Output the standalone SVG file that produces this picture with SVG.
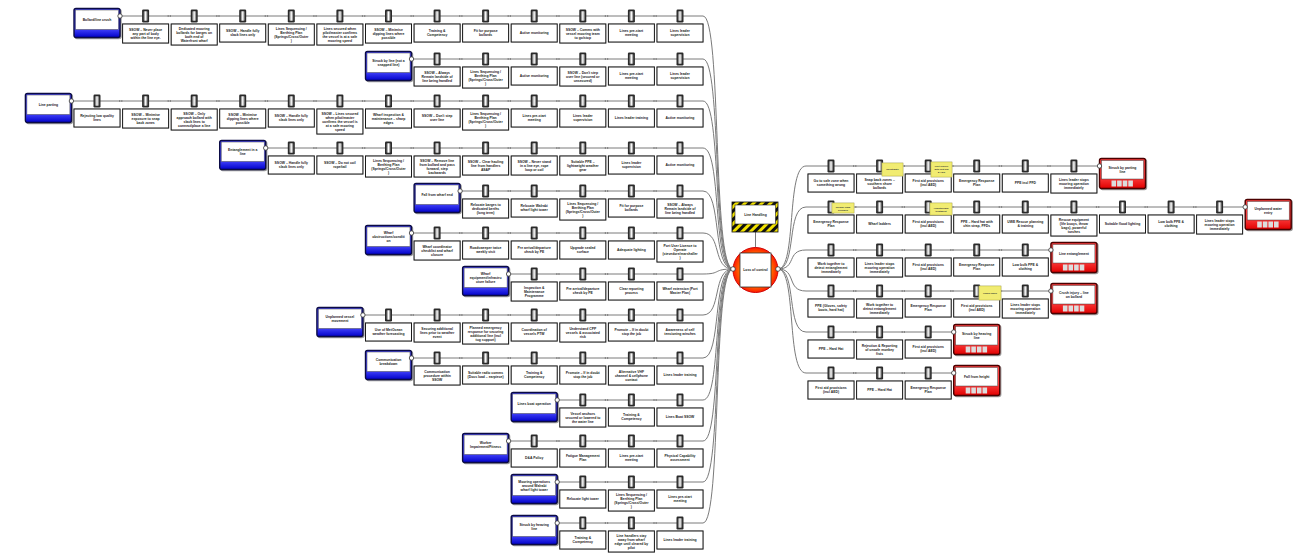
<svg xmlns="http://www.w3.org/2000/svg" xmlns:xlink="http://www.w3.org/1999/xlink" width="1310" height="554" viewBox="0 0 1310 554">
<style>
.t{font-family:"Liberation Sans",Arial,sans-serif;font-weight:bold;font-size:3.4px;fill:#222;text-anchor:middle;dominant-baseline:central}
.tn{font-family:"Liberation Sans",Arial,sans-serif;font-weight:bold;font-size:2.4px;fill:#333;text-anchor:middle;dominant-baseline:central}
.bx{fill:#fff;stroke:#1a1a1a;stroke-width:1;filter:drop-shadow(0.8px 0.8px 0 #9a9a9a)}
.ln{fill:none;stroke:#7a7a7a;stroke-width:1}
.dt{stroke:#777;stroke-width:1.3;stroke-dasharray:1.2 1}
.thO{fill:url(#thG);stroke:#0b0b45;stroke-width:1.4;filter:drop-shadow(1px 1px 0 #999)}
.thI{fill:#fff;stroke:#444;stroke-width:0.5}
.coO{fill:url(#coG);stroke:#4a0000;stroke-width:1.4;filter:drop-shadow(1px 1px 0 #999)}
.coI{fill:#fff;stroke:#444;stroke-width:0.5}
.cn{fill:#fff;stroke:#333;stroke-width:0.8}
.nt{fill:#f1ec72;stroke:#bdb640;stroke-width:0.5;filter:drop-shadow(0.7px 0.7px 0 #aaa)}
</style>
<defs>
<linearGradient id="hgG" x1="0" y1="0" x2="1" y2="0"><stop offset="0" stop-color="#555"/><stop offset="0.5" stop-color="#fff"/><stop offset="1" stop-color="#555"/></linearGradient>
<linearGradient id="thG" x1="0" y1="0" x2="0" y2="1"><stop offset="0.68" stop-color="#4848ff"/><stop offset="1" stop-color="#0000c8"/></linearGradient>
<linearGradient id="coG" x1="0" y1="0" x2="0" y2="1"><stop offset="0.6" stop-color="#ff4040"/><stop offset="1" stop-color="#e00000"/></linearGradient>
<radialGradient id="teG"><stop offset="0" stop-color="#ffd400"/><stop offset="0.55" stop-color="#ff9a00"/><stop offset="1" stop-color="#ff1a00"/></radialGradient>
<pattern id="haz" width="6" height="6" patternUnits="userSpaceOnUse" patternTransform="rotate(45)"><rect width="6" height="6" fill="#f2e200"/><rect width="3" height="6" fill="#111"/></pattern>
<g id="hg"><rect x="-3.5" y="-6.5" width="7" height="13" rx="1.2" fill="#2a2a2a"/><rect x="-2.2" y="-4.8" width="4.4" height="9.6" rx="0.8" fill="url(#hgG)"/></g>
<g id="sq4" fill="#ddd"><rect x="12" y="14.5" width="4.6" height="6"/><rect x="17.6" y="14.5" width="4.6" height="6"/><rect x="23.2" y="14.5" width="4.6" height="6"/><rect x="28.8" y="14.5" width="4.6" height="6"/></g>
</defs>
<rect width="1310" height="554" fill="#fff"/>

<g id="connectors">
<path class="ln" d="M120 16H703C722 16 712 269 733 269"/>
<path class="ln" d="M411.5 59H703C722 59 712 269 733 269"/>
<path class="ln" d="M71.4 101H703C722 101 712 269 733 269"/>
<path class="ln" d="M265.7 148H703C722 148 712 269 733 269"/>
<path class="ln" d="M460.1 191H703C722 191 712 269 733 269"/>
<path class="ln" d="M411.5 233H703C722 233 712 269 733 269"/>
<path class="ln" d="M508.6 274H703C722 274 712 269 733 269"/>
<path class="ln" d="M362.9 315H703C722 315 712 269 733 269"/>
<path class="ln" d="M411.5 358H703C722 358 712 269 733 269"/>
<path class="ln" d="M557.2 400H703C722 400 712 269 733 269"/>
<path class="ln" d="M508.6 441H703C722 441 712 269 733 269"/>
<path class="ln" d="M557.2 482H703C722 482 712 269 733 269"/>
<path class="ln" d="M557.2 523H703C722 523 712 269 733 269"/>
<path class="ln" d="M778 269C797 269 786 166 806 166H1099.5"/>
<path class="ln" d="M778 269C797 269 786 207 806 207H1245.2"/>
<path class="ln" d="M778 269C797 269 786 250 806 250H1050.9"/>
<path class="ln" d="M778 269C797 269 786 291 806 291H1050.9"/>
<path class="ln" d="M778 269C797 269 786 332 806 332H953.7"/>
<path class="ln" d="M778 269C797 269 786 373 806 373H953.7"/>
<path class="ln" d="M755.5 232V247.5"/>
</g>

<!-- Hazard -->
<g id="hazard">
<rect x="732" y="202" width="46" height="30" fill="url(#haz)" stroke="#111" stroke-width="0.8"/>
<rect x="735" y="205" width="40.5" height="19" fill="#fff" stroke="#222" stroke-width="0.6"/>
<text class="t" x="755.5" y="214.5">Line Handling</text>
</g>

<!-- Top event -->
<g id="top-event">
<circle cx="755.5" cy="270" r="22.5" fill="url(#teG)" stroke="#d00000" stroke-width="1"/>
<rect x="740" y="253" width="31" height="34" fill="#fff" stroke="#333" stroke-width="0.8"/>
<text class="t" x="755.5" y="270">Loss of control</text>
<circle class="cn" cx="733" cy="269" r="2.3"/>
<circle class="cn" cx="778" cy="269" r="2.3"/>
</g>

<!-- Threats -->
<g id="threat-1" transform="translate(74,16)"><rect class="thO" y="-7.5" width="46" height="29" rx="2"/><rect class="thI" x="1.5" y="-6" width="43" height="19.5"/><text class="t" x="23" y="3.75">Bollard/line crush</text><circle class="cn" cx="46" cy="0" r="2.2"/></g>
<g id="threat-2" transform="translate(365.5,59)"><rect class="thO" y="-7.5" width="46" height="29" rx="2"/><rect class="thI" x="1.5" y="-6" width="43" height="19.5"/><text class="t" y="1.75"><tspan x="23">Struck by line (not a</tspan><tspan x="23" dy="4">snapped line)</tspan></text><circle class="cn" cx="46" cy="0" r="2.2"/></g>
<g id="threat-3" transform="translate(25.4,101)"><rect class="thO" y="-7.5" width="46" height="29" rx="2"/><rect class="thI" x="1.5" y="-6" width="43" height="19.5"/><text class="t" x="23" y="3.75">Line parting</text><circle class="cn" cx="46" cy="0" r="2.2"/></g>
<g id="threat-4" transform="translate(219.7,148)"><rect class="thO" y="-7.5" width="46" height="29" rx="2"/><rect class="thI" x="1.5" y="-6" width="43" height="19.5"/><text class="t" y="1.75"><tspan x="23">Entanglement in a</tspan><tspan x="23" dy="4">line</tspan></text><circle class="cn" cx="46" cy="0" r="2.2"/></g>
<g id="threat-5" transform="translate(414.1,191)"><rect class="thO" y="-7.5" width="46" height="29" rx="2"/><rect class="thI" x="1.5" y="-6" width="43" height="19.5"/><text class="t" x="23" y="3.75">Fall from wharf end</text><circle class="cn" cx="46" cy="0" r="2.2"/></g>
<g id="threat-6" transform="translate(365.5,233)"><rect class="thO" y="-7.5" width="46" height="29" rx="2"/><rect class="thI" x="1.5" y="-6" width="43" height="19.5"/><text class="t" y="-0.25"><tspan x="23">Wharf</tspan><tspan x="23" dy="4">obstructions/conditi</tspan><tspan x="23" dy="4">on</tspan></text><circle class="cn" cx="46" cy="0" r="2.2"/></g>
<g id="threat-7" transform="translate(462.6,274)"><rect class="thO" y="-7.5" width="46" height="29" rx="2"/><rect class="thI" x="1.5" y="-6" width="43" height="19.5"/><text class="t" y="-0.25"><tspan x="23">Wharf</tspan><tspan x="23" dy="4">equipment/infrastru</tspan><tspan x="23" dy="4">cture failure</tspan></text><circle class="cn" cx="46" cy="0" r="2.2"/></g>
<g id="threat-8" transform="translate(316.9,315)"><rect class="thO" y="-7.5" width="46" height="29" rx="2"/><rect class="thI" x="1.5" y="-6" width="43" height="19.5"/><text class="t" y="1.75"><tspan x="23">Unplanned vessel</tspan><tspan x="23" dy="4">movement</tspan></text><circle class="cn" cx="46" cy="0" r="2.2"/></g>
<g id="threat-9" transform="translate(365.5,358)"><rect class="thO" y="-7.5" width="46" height="29" rx="2"/><rect class="thI" x="1.5" y="-6" width="43" height="19.5"/><text class="t" y="1.75"><tspan x="23">Communication</tspan><tspan x="23" dy="4">breakdown</tspan></text><circle class="cn" cx="46" cy="0" r="2.2"/></g>
<g id="threat-10" transform="translate(511.2,400)"><rect class="thO" y="-7.5" width="46" height="29" rx="2"/><rect class="thI" x="1.5" y="-6" width="43" height="19.5"/><text class="t" x="23" y="3.75">Lines boat operation</text><circle class="cn" cx="46" cy="0" r="2.2"/></g>
<g id="threat-11" transform="translate(462.6,441)"><rect class="thO" y="-7.5" width="46" height="29" rx="2"/><rect class="thI" x="1.5" y="-6" width="43" height="19.5"/><text class="t" y="1.75"><tspan x="23">Worker</tspan><tspan x="23" dy="4">Impairment/Fitness</tspan></text><circle class="cn" cx="46" cy="0" r="2.2"/></g>
<g id="threat-12" transform="translate(511.2,482)"><rect class="thO" y="-7.5" width="46" height="29" rx="2"/><rect class="thI" x="1.5" y="-6" width="43" height="19.5"/><text class="t" y="-0.25"><tspan x="23">Mooring operations</tspan><tspan x="23" dy="4">around Walrabi</tspan><tspan x="23" dy="4">wharf light tower</tspan></text><circle class="cn" cx="46" cy="0" r="2.2"/></g>
<g id="threat-13" transform="translate(511.2,523)"><rect class="thO" y="-7.5" width="46" height="29" rx="2"/><rect class="thI" x="1.5" y="-6" width="43" height="19.5"/><text class="t" y="1.75"><tspan x="23">Struck by heaving</tspan><tspan x="23" dy="4">line</tspan></text><circle class="cn" cx="46" cy="0" r="2.2"/></g>

<!-- Row 1 barriers -->
<g id="b1-1" transform="translate(122.6,16)"><use href="#hg" x="23"/><rect class="bx" y="8" width="46" height="19"/><text class="t" y="13.5"><tspan x="23">SSOW – Never place</tspan><tspan x="23" dy="4">any part of body</tspan><tspan x="23" dy="4">within the line eye.</tspan></text><path class="dt" d="M45 0h4"/></g>
<g id="b1-2" transform="translate(171.2,16)"><use href="#hg" x="23"/><rect class="bx" y="8" width="46" height="21"/><text class="t" y="12.5"><tspan x="23">Dedicated mooring</tspan><tspan x="23" dy="4">bollards for barges on</tspan><tspan x="23" dy="4">both end of</tspan><tspan x="23" dy="4">Waterfront wharf</tspan></text><path class="dt" d="M45 0h4"/></g>
<g id="b1-3" transform="translate(219.7,16)"><use href="#hg" x="23"/><rect class="bx" y="8" width="46" height="18"/><text class="t" y="15"><tspan x="23">SSOW – Handle fully</tspan><tspan x="23" dy="4">slack lines only</tspan></text><path class="dt" d="M45 0h4"/></g>
<g id="b1-4" transform="translate(268.3,16)"><use href="#hg" x="23"/><rect class="bx" y="8" width="46" height="21"/><text class="t" y="12.5"><tspan x="23">Lines Sequencing /</tspan><tspan x="23" dy="4">Berthing Plan</tspan><tspan x="23" dy="4">(Springs/Cross/Outer</tspan><tspan x="23" dy="4">)</tspan></text><path class="dt" d="M45 0h4"/></g>
<g id="b1-5" transform="translate(316.9,16)"><use href="#hg" x="23"/><rect class="bx" y="8" width="46" height="21"/><text class="t" y="12.5"><tspan x="23">Lines secured when</tspan><tspan x="23" dy="4">pilot/master confirms</tspan><tspan x="23" dy="4">the vessel is at a safe</tspan><tspan x="23" dy="4">mooring speed</tspan></text><path class="dt" d="M45 0h4"/></g>
<g id="b1-6" transform="translate(365.5,16)"><use href="#hg" x="23"/><rect class="bx" y="8" width="46" height="19"/><text class="t" y="13.5"><tspan x="23">SSOW – Minimise</tspan><tspan x="23" dy="4">dipping lines where</tspan><tspan x="23" dy="4">possible</tspan></text><path class="dt" d="M45 0h4"/></g>
<g id="b1-7" transform="translate(414.1,16)"><use href="#hg" x="23"/><rect class="bx" y="8" width="46" height="18"/><text class="t" y="15"><tspan x="23">Training &amp;</tspan><tspan x="23" dy="4">Competency</tspan></text><path class="dt" d="M45 0h4"/></g>
<g id="b1-8" transform="translate(462.6,16)"><use href="#hg" x="23"/><rect class="bx" y="8" width="46" height="18"/><text class="t" y="15"><tspan x="23">Fit for purpose</tspan><tspan x="23" dy="4">bollards</tspan></text><path class="dt" d="M45 0h4"/></g>
<g id="b1-9" transform="translate(511.2,16)"><use href="#hg" x="23"/><rect class="bx" y="8" width="46" height="18"/><text class="t" x="23" y="17">Active monitoring</text><path class="dt" d="M45 0h4"/></g>
<g id="b1-10" transform="translate(559.8,16)"><use href="#hg" x="23"/><rect class="bx" y="8" width="46" height="19"/><text class="t" y="13.5"><tspan x="23">SSOW – Comms with</tspan><tspan x="23" dy="4">vessel mooring team</tspan><tspan x="23" dy="4">to go/stop</tspan></text><path class="dt" d="M45 0h4"/></g>
<g id="b1-11" transform="translate(608.4,16)"><use href="#hg" x="23"/><rect class="bx" y="8" width="46" height="18"/><text class="t" y="15"><tspan x="23">Lines pre-start</tspan><tspan x="23" dy="4">meeting</tspan></text><path class="dt" d="M45 0h4"/></g>
<g id="b1-12" transform="translate(657,16)"><use href="#hg" x="23"/><rect class="bx" y="8" width="46" height="18"/><text class="t" y="15"><tspan x="23">Lines leader</tspan><tspan x="23" dy="4">supervision</tspan></text></g>

<!-- Row 2 -->
<g id="b2-1" transform="translate(414.1,59)"><use href="#hg" x="23"/><rect class="bx" y="8" width="46" height="19"/><text class="t" y="13.5"><tspan x="23">SSOW – Always</tspan><tspan x="23" dy="4">Remain landside of</tspan><tspan x="23" dy="4">line being handled</tspan></text><path class="dt" d="M45 0h4"/></g>
<g id="b2-2" transform="translate(462.6,59)"><use href="#hg" x="23"/><rect class="bx" y="8" width="46" height="21"/><text class="t" y="12.5"><tspan x="23">Lines Sequencing /</tspan><tspan x="23" dy="4">Berthing Plan</tspan><tspan x="23" dy="4">(Springs/Cross/Outer</tspan><tspan x="23" dy="4">)</tspan></text><path class="dt" d="M45 0h4"/></g>
<g id="b2-3" transform="translate(511.2,59)"><use href="#hg" x="23"/><rect class="bx" y="8" width="46" height="18"/><text class="t" x="23" y="17">Active monitoring</text><path class="dt" d="M45 0h4"/></g>
<g id="b2-4" transform="translate(559.8,59)"><use href="#hg" x="23"/><rect class="bx" y="8" width="46" height="19"/><text class="t" y="13.5"><tspan x="23">SSOW – Don't step</tspan><tspan x="23" dy="4">over line (secured or</tspan><tspan x="23" dy="4">unsecured)</tspan></text><path class="dt" d="M45 0h4"/></g>
<g id="b2-5" transform="translate(608.4,59)"><use href="#hg" x="23"/><rect class="bx" y="8" width="46" height="18"/><text class="t" y="15"><tspan x="23">Lines pre-start</tspan><tspan x="23" dy="4">meeting</tspan></text><path class="dt" d="M45 0h4"/></g>
<g id="b2-6" transform="translate(657,59)"><use href="#hg" x="23"/><rect class="bx" y="8" width="46" height="18"/><text class="t" y="15"><tspan x="23">Lines leader</tspan><tspan x="23" dy="4">supervision</tspan></text></g>

<!-- Row 3 -->
<g id="b3-1" transform="translate(74,101)"><use href="#hg" x="23"/><rect class="bx" y="8" width="46" height="18"/><text class="t" y="15"><tspan x="23">Rejecting low quality</tspan><tspan x="23" dy="4">lines</tspan></text><path class="dt" d="M45 0h4"/></g>
<g id="b3-2" transform="translate(122.6,101)"><use href="#hg" x="23"/><rect class="bx" y="8" width="46" height="19"/><text class="t" y="13.5"><tspan x="23">SSOW – Minimise</tspan><tspan x="23" dy="4">exposure to snap</tspan><tspan x="23" dy="4">back zones</tspan></text><path class="dt" d="M45 0h4"/></g>
<g id="b3-3" transform="translate(171.2,101)"><use href="#hg" x="23"/><rect class="bx" y="8" width="46" height="21"/><text class="t" y="12.5"><tspan x="23">SSOW – Only</tspan><tspan x="23" dy="4">approach bollard with</tspan><tspan x="23" dy="4">slack lines to</tspan><tspan x="23" dy="4">connect/place a line</tspan></text><path class="dt" d="M45 0h4"/></g>
<g id="b3-4" transform="translate(219.7,101)"><use href="#hg" x="23"/><rect class="bx" y="8" width="46" height="19"/><text class="t" y="13.5"><tspan x="23">SSOW – Minimise</tspan><tspan x="23" dy="4">dipping lines where</tspan><tspan x="23" dy="4">possible</tspan></text><path class="dt" d="M45 0h4"/></g>
<g id="b3-5" transform="translate(268.3,101)"><use href="#hg" x="23"/><rect class="bx" y="8" width="46" height="18"/><text class="t" y="15"><tspan x="23">SSOW – Handle fully</tspan><tspan x="23" dy="4">slack lines only</tspan></text><path class="dt" d="M45 0h4"/></g>
<g id="b3-6" transform="translate(316.9,101)"><use href="#hg" x="23"/><rect class="bx" y="8" width="46" height="25"/><text class="t" y="12.5"><tspan x="23">SSOW – Lines secured</tspan><tspan x="23" dy="4">when pilot/master</tspan><tspan x="23" dy="4">confirms the vessel is</tspan><tspan x="23" dy="4">at a safe mooring</tspan><tspan x="23" dy="4">speed</tspan></text><path class="dt" d="M45 0h4"/></g>
<g id="b3-7" transform="translate(365.5,101)"><use href="#hg" x="23"/><rect class="bx" y="8" width="46" height="19"/><text class="t" y="13.5"><tspan x="23">Wharf inspection &amp;</tspan><tspan x="23" dy="4">maintenance – sharp</tspan><tspan x="23" dy="4">edges</tspan></text><path class="dt" d="M45 0h4"/></g>
<g id="b3-8" transform="translate(414.1,101)"><use href="#hg" x="23"/><rect class="bx" y="8" width="46" height="18"/><text class="t" y="15"><tspan x="23">SSOW – Don't step</tspan><tspan x="23" dy="4">over line</tspan></text><path class="dt" d="M45 0h4"/></g>
<g id="b3-9" transform="translate(462.6,101)"><use href="#hg" x="23"/><rect class="bx" y="8" width="46" height="21"/><text class="t" y="12.5"><tspan x="23">Lines Sequencing /</tspan><tspan x="23" dy="4">Berthing Plan</tspan><tspan x="23" dy="4">(Springs/Cross/Outer</tspan><tspan x="23" dy="4">)</tspan></text><path class="dt" d="M45 0h4"/></g>
<g id="b3-10" transform="translate(511.2,101)"><use href="#hg" x="23"/><rect class="bx" y="8" width="46" height="18"/><text class="t" y="15"><tspan x="23">Lines pre-start</tspan><tspan x="23" dy="4">meeting</tspan></text><path class="dt" d="M45 0h4"/></g>
<g id="b3-11" transform="translate(559.8,101)"><use href="#hg" x="23"/><rect class="bx" y="8" width="46" height="18"/><text class="t" y="15"><tspan x="23">Lines leader</tspan><tspan x="23" dy="4">supervision</tspan></text><path class="dt" d="M45 0h4"/></g>
<g id="b3-12" transform="translate(608.4,101)"><use href="#hg" x="23"/><rect class="bx" y="8" width="46" height="18"/><text class="t" x="23" y="17">Lines leader training</text><path class="dt" d="M45 0h4"/></g>
<g id="b3-13" transform="translate(657,101)"><use href="#hg" x="23"/><rect class="bx" y="8" width="46" height="18"/><text class="t" x="23" y="17">Active monitoring</text></g>

<!-- Row 4 -->
<g id="b4-1" transform="translate(268.3,148)"><use href="#hg" x="23"/><rect class="bx" y="8" width="46" height="18"/><text class="t" y="15"><tspan x="23">SSOW – Handle fully</tspan><tspan x="23" dy="4">slack lines only</tspan></text><path class="dt" d="M45 0h4"/></g>
<g id="b4-2" transform="translate(316.9,148)"><use href="#hg" x="23"/><rect class="bx" y="8" width="46" height="18"/><text class="t" y="15"><tspan x="23">SSOW – Do not coil</tspan><tspan x="23" dy="4">rope/tail</tspan></text><path class="dt" d="M45 0h4"/></g>
<g id="b4-3" transform="translate(365.5,148)"><use href="#hg" x="23"/><rect class="bx" y="8" width="46" height="21"/><text class="t" y="12.5"><tspan x="23">Lines Sequencing /</tspan><tspan x="23" dy="4">Berthing Plan</tspan><tspan x="23" dy="4">(Springs/Cross/Outer</tspan><tspan x="23" dy="4">)</tspan></text><path class="dt" d="M45 0h4"/></g>
<g id="b4-4" transform="translate(414.1,148)"><use href="#hg" x="23"/><rect class="bx" y="8" width="46" height="21"/><text class="t" y="12.5"><tspan x="23">SSOW – Remove line</tspan><tspan x="23" dy="4">from bollard and pass</tspan><tspan x="23" dy="4">forward, step</tspan><tspan x="23" dy="4">backwards</tspan></text><path class="dt" d="M45 0h4"/></g>
<g id="b4-5" transform="translate(462.6,148)"><use href="#hg" x="23"/><rect class="bx" y="8" width="46" height="19"/><text class="t" y="13.5"><tspan x="23">SSOW – Clear hauling</tspan><tspan x="23" dy="4">line from handlers</tspan><tspan x="23" dy="4">ASAP</tspan></text><path class="dt" d="M45 0h4"/></g>
<g id="b4-6" transform="translate(511.2,148)"><use href="#hg" x="23"/><rect class="bx" y="8" width="46" height="19"/><text class="t" y="13.5"><tspan x="23">SSOW – Never stand</tspan><tspan x="23" dy="4">in a line eye, rope</tspan><tspan x="23" dy="4">loop or coil</tspan></text><path class="dt" d="M45 0h4"/></g>
<g id="b4-7" transform="translate(559.8,148)"><use href="#hg" x="23"/><rect class="bx" y="8" width="46" height="19"/><text class="t" y="13.5"><tspan x="23">Suitable PPE –</tspan><tspan x="23" dy="4">lightweight weather</tspan><tspan x="23" dy="4">gear</tspan></text><path class="dt" d="M45 0h4"/></g>
<g id="b4-8" transform="translate(608.4,148)"><use href="#hg" x="23"/><rect class="bx" y="8" width="46" height="18"/><text class="t" y="15"><tspan x="23">Lines leader</tspan><tspan x="23" dy="4">supervision</tspan></text><path class="dt" d="M45 0h4"/></g>
<g id="b4-9" transform="translate(657,148)"><use href="#hg" x="23"/><rect class="bx" y="8" width="46" height="18"/><text class="t" x="23" y="17">Active monitoring</text></g>

<!-- Row 5 -->
<g id="b5-1" transform="translate(462.6,191)"><use href="#hg" x="23"/><rect class="bx" y="8" width="46" height="19"/><text class="t" y="13.5"><tspan x="23">Relocate barges to</tspan><tspan x="23" dy="4">dedicated berths</tspan><tspan x="23" dy="4">(long term)</tspan></text><path class="dt" d="M45 0h4"/></g>
<g id="b5-2" transform="translate(511.2,191)"><use href="#hg" x="23"/><rect class="bx" y="8" width="46" height="18"/><text class="t" y="15"><tspan x="23">Relocate Walrabi</tspan><tspan x="23" dy="4">wharf light tower</tspan></text><path class="dt" d="M45 0h4"/></g>
<g id="b5-3" transform="translate(559.8,191)"><use href="#hg" x="23"/><rect class="bx" y="8" width="46" height="21"/><text class="t" y="12.5"><tspan x="23">Lines Sequencing /</tspan><tspan x="23" dy="4">Berthing Plan</tspan><tspan x="23" dy="4">(Springs/Cross/Outer</tspan><tspan x="23" dy="4">)</tspan></text><path class="dt" d="M45 0h4"/></g>
<g id="b5-4" transform="translate(608.4,191)"><use href="#hg" x="23"/><rect class="bx" y="8" width="46" height="18"/><text class="t" y="15"><tspan x="23">Fit for purpose</tspan><tspan x="23" dy="4">bollards</tspan></text><path class="dt" d="M45 0h4"/></g>
<g id="b5-5" transform="translate(657,191)"><use href="#hg" x="23"/><rect class="bx" y="8" width="46" height="19"/><text class="t" y="13.5"><tspan x="23">SSOW – Always</tspan><tspan x="23" dy="4">Remain landside of</tspan><tspan x="23" dy="4">line being handled</tspan></text></g>

<!-- Row 6 -->
<g id="b6-1" transform="translate(414.1,233)"><use href="#hg" x="23"/><rect class="bx" y="8" width="46" height="19"/><text class="t" y="13.5"><tspan x="23">Wharf coordinator</tspan><tspan x="23" dy="4">checklist and wharf</tspan><tspan x="23" dy="4">closure</tspan></text><path class="dt" d="M45 0h4"/></g>
<g id="b6-2" transform="translate(462.6,233)"><use href="#hg" x="23"/><rect class="bx" y="8" width="46" height="18"/><text class="t" y="15"><tspan x="23">Roadsweeper twice</tspan><tspan x="23" dy="4">weekly visit</tspan></text><path class="dt" d="M45 0h4"/></g>
<g id="b6-3" transform="translate(511.2,233)"><use href="#hg" x="23"/><rect class="bx" y="8" width="46" height="18"/><text class="t" y="15"><tspan x="23">Pre arrival/departure</tspan><tspan x="23" dy="4">check by PE</tspan></text><path class="dt" d="M45 0h4"/></g>
<g id="b6-4" transform="translate(559.8,233)"><use href="#hg" x="23"/><rect class="bx" y="8" width="46" height="18"/><text class="t" y="15"><tspan x="23">Upgrade sealed</tspan><tspan x="23" dy="4">surface</tspan></text><path class="dt" d="M45 0h4"/></g>
<g id="b6-5" transform="translate(608.4,233)"><use href="#hg" x="23"/><rect class="bx" y="8" width="46" height="18"/><text class="t" x="23" y="17">Adequate lighting</text><path class="dt" d="M45 0h4"/></g>
<g id="b6-6" transform="translate(657,233)"><use href="#hg" x="23"/><rect class="bx" y="8" width="46" height="21"/><text class="t" y="12.5"><tspan x="23">Port User Licence to</tspan><tspan x="23" dy="4">Operate</tspan><tspan x="23" dy="4">(stevedore/marshaller</tspan><tspan x="23" dy="4">)</tspan></text></g>

<!-- Row 7 -->
<g id="b7-1" transform="translate(511.2,274)"><use href="#hg" x="23"/><rect class="bx" y="8" width="46" height="19"/><text class="t" y="13.5"><tspan x="23">Inspection &amp;</tspan><tspan x="23" dy="4">Maintenance</tspan><tspan x="23" dy="4">Programme</tspan></text><path class="dt" d="M45 0h4"/></g>
<g id="b7-2" transform="translate(559.8,274)"><use href="#hg" x="23"/><rect class="bx" y="8" width="46" height="18"/><text class="t" y="15"><tspan x="23">Pre arrival/departure</tspan><tspan x="23" dy="4">check by PE</tspan></text><path class="dt" d="M45 0h4"/></g>
<g id="b7-3" transform="translate(608.4,274)"><use href="#hg" x="23"/><rect class="bx" y="8" width="46" height="18"/><text class="t" y="15"><tspan x="23">Clear reporting</tspan><tspan x="23" dy="4">process</tspan></text><path class="dt" d="M45 0h4"/></g>
<g id="b7-4" transform="translate(657,274)"><use href="#hg" x="23"/><rect class="bx" y="8" width="46" height="18"/><text class="t" y="15"><tspan x="23">Wharf extension (Port</tspan><tspan x="23" dy="4">Master Plan)</tspan></text></g>

<!-- Row 8 -->
<g id="b8-1" transform="translate(365.5,315)"><use href="#hg" x="23"/><rect class="bx" y="8" width="46" height="18"/><text class="t" y="15"><tspan x="23">Use of MetOcean</tspan><tspan x="23" dy="4">weather forecasting</tspan></text><path class="dt" d="M45 0h4"/></g>
<g id="b8-2" transform="translate(414.1,315)"><use href="#hg" x="23"/><rect class="bx" y="8" width="46" height="19"/><text class="t" y="13.5"><tspan x="23">Securing additional</tspan><tspan x="23" dy="4">lines prior to weather</tspan><tspan x="23" dy="4">event</tspan></text><path class="dt" d="M45 0h4"/></g>
<g id="b8-3" transform="translate(462.6,315)"><use href="#hg" x="23"/><rect class="bx" y="8" width="46" height="21"/><text class="t" y="12.5"><tspan x="23">Planned emergency</tspan><tspan x="23" dy="4">response for securing</tspan><tspan x="23" dy="4">additional line (incl</tspan><tspan x="23" dy="4">tug support)</tspan></text><path class="dt" d="M45 0h4"/></g>
<g id="b8-4" transform="translate(511.2,315)"><use href="#hg" x="23"/><rect class="bx" y="8" width="46" height="18"/><text class="t" y="15"><tspan x="23">Coordination of</tspan><tspan x="23" dy="4">vessels PTW</tspan></text><path class="dt" d="M45 0h4"/></g>
<g id="b8-5" transform="translate(559.8,315)"><use href="#hg" x="23"/><rect class="bx" y="8" width="46" height="19"/><text class="t" y="13.5"><tspan x="23">Understand CPP</tspan><tspan x="23" dy="4">vessels &amp; associated</tspan><tspan x="23" dy="4">risk</tspan></text><path class="dt" d="M45 0h4"/></g>
<g id="b8-6" transform="translate(608.4,315)"><use href="#hg" x="23"/><rect class="bx" y="8" width="46" height="18"/><text class="t" y="15"><tspan x="23">Promote – If in doubt</tspan><tspan x="23" dy="4">stop the job</tspan></text><path class="dt" d="M45 0h4"/></g>
<g id="b8-7" transform="translate(657,315)"><use href="#hg" x="23"/><rect class="bx" y="8" width="46" height="18"/><text class="t" y="15"><tspan x="23">Awareness of self</tspan><tspan x="23" dy="4">tensioning winches</tspan></text></g>

<!-- Row 9 -->
<g id="b9-1" transform="translate(414.1,358)"><use href="#hg" x="23"/><rect class="bx" y="8" width="46" height="19"/><text class="t" y="13.5"><tspan x="23">Communication</tspan><tspan x="23" dy="4">procedure within</tspan><tspan x="23" dy="4">SSOW</tspan></text><path class="dt" d="M45 0h4"/></g>
<g id="b9-2" transform="translate(462.6,358)"><use href="#hg" x="23"/><rect class="bx" y="8" width="46" height="18"/><text class="t" y="15"><tspan x="23">Suitable radio comms</tspan><tspan x="23" dy="4">(Docs load – earpiece)</tspan></text><path class="dt" d="M45 0h4"/></g>
<g id="b9-3" transform="translate(511.2,358)"><use href="#hg" x="23"/><rect class="bx" y="8" width="46" height="18"/><text class="t" y="15"><tspan x="23">Training &amp;</tspan><tspan x="23" dy="4">Competency</tspan></text><path class="dt" d="M45 0h4"/></g>
<g id="b9-4" transform="translate(559.8,358)"><use href="#hg" x="23"/><rect class="bx" y="8" width="46" height="18"/><text class="t" y="15"><tspan x="23">Promote – If in doubt</tspan><tspan x="23" dy="4">stop the job</tspan></text><path class="dt" d="M45 0h4"/></g>
<g id="b9-5" transform="translate(608.4,358)"><use href="#hg" x="23"/><rect class="bx" y="8" width="46" height="19"/><text class="t" y="13.5"><tspan x="23">Alternative VHF</tspan><tspan x="23" dy="4">channel &amp; cellphone</tspan><tspan x="23" dy="4">contact</tspan></text><path class="dt" d="M45 0h4"/></g>
<g id="b9-6" transform="translate(657,358)"><use href="#hg" x="23"/><rect class="bx" y="8" width="46" height="18"/><text class="t" x="23" y="17">Lines leader training</text></g>

<!-- Row 10 -->
<g id="b10-1" transform="translate(559.8,400)"><use href="#hg" x="23"/><rect class="bx" y="8" width="46" height="19"/><text class="t" y="13.5"><tspan x="23">Vessel anchors</tspan><tspan x="23" dy="4">secured or lowered to</tspan><tspan x="23" dy="4">the water line</tspan></text><path class="dt" d="M45 0h4"/></g>
<g id="b10-2" transform="translate(608.4,400)"><use href="#hg" x="23"/><rect class="bx" y="8" width="46" height="18"/><text class="t" y="15"><tspan x="23">Training &amp;</tspan><tspan x="23" dy="4">Competency</tspan></text><path class="dt" d="M45 0h4"/></g>
<g id="b10-3" transform="translate(657,400)"><use href="#hg" x="23"/><rect class="bx" y="8" width="46" height="18"/><text class="t" x="23" y="17">Lines Boat SSOW</text></g>

<!-- Row 11 -->
<g id="b11-1" transform="translate(511.2,441)"><use href="#hg" x="23"/><rect class="bx" y="8" width="46" height="18"/><text class="t" x="23" y="17">D&amp;A Policy</text><path class="dt" d="M45 0h4"/></g>
<g id="b11-2" transform="translate(559.8,441)"><use href="#hg" x="23"/><rect class="bx" y="8" width="46" height="18"/><text class="t" y="15"><tspan x="23">Fatigue Management</tspan><tspan x="23" dy="4">Plan</tspan></text><path class="dt" d="M45 0h4"/></g>
<g id="b11-3" transform="translate(608.4,441)"><use href="#hg" x="23"/><rect class="bx" y="8" width="46" height="18"/><text class="t" y="15"><tspan x="23">Lines pre-start</tspan><tspan x="23" dy="4">meeting</tspan></text><path class="dt" d="M45 0h4"/></g>
<g id="b11-4" transform="translate(657,441)"><use href="#hg" x="23"/><rect class="bx" y="8" width="46" height="18"/><text class="t" y="15"><tspan x="23">Physical Capability</tspan><tspan x="23" dy="4">assessment</tspan></text></g>

<!-- Row 12 -->
<g id="b12-1" transform="translate(559.8,482)"><use href="#hg" x="23"/><rect class="bx" y="8" width="46" height="18"/><text class="t" x="23" y="17">Relocate light tower</text><path class="dt" d="M45 0h4"/></g>
<g id="b12-2" transform="translate(608.4,482)"><use href="#hg" x="23"/><rect class="bx" y="8" width="46" height="21"/><text class="t" y="12.5"><tspan x="23">Lines Sequencing /</tspan><tspan x="23" dy="4">Berthing Plan</tspan><tspan x="23" dy="4">(Springs/Cross/Outer</tspan><tspan x="23" dy="4">)</tspan></text><path class="dt" d="M45 0h4"/></g>
<g id="b12-3" transform="translate(657,482)"><use href="#hg" x="23"/><rect class="bx" y="8" width="46" height="18"/><text class="t" y="15"><tspan x="23">Lines pre-start</tspan><tspan x="23" dy="4">meeting</tspan></text></g>

<!-- Row 13 -->
<g id="b13-1" transform="translate(559.8,523)"><use href="#hg" x="23"/><rect class="bx" y="8" width="46" height="18"/><text class="t" y="15"><tspan x="23">Training &amp;</tspan><tspan x="23" dy="4">Competency</tspan></text><path class="dt" d="M45 0h4"/></g>
<g id="b13-2" transform="translate(608.4,523)"><use href="#hg" x="23"/><rect class="bx" y="8" width="46" height="21"/><text class="t" y="12.5"><tspan x="23">Line handlers stay</tspan><tspan x="23" dy="4">away from wharf</tspan><tspan x="23" dy="4">edge until cleared by</tspan><tspan x="23" dy="4">pilot</tspan></text><path class="dt" d="M45 0h4"/></g>
<g id="b13-3" transform="translate(657,523)"><use href="#hg" x="23"/><rect class="bx" y="8" width="46" height="18"/><text class="t" x="23" y="17">Lines leader training</text></g>

<!-- Right row 1 -->
<g id="r1-1" transform="translate(808,166)"><use href="#hg" x="23"/><rect class="bx" y="8" width="46" height="18"/><text class="t" y="15"><tspan x="23">Go to safe zone when</tspan><tspan x="23" dy="4">something wrong</tspan></text><path class="dt" d="M45 0h4"/></g>
<g id="r1-2" transform="translate(856.6,166)"><use href="#hg" x="23"/><rect class="bx" y="8" width="46" height="19"/><text class="t" y="13.5"><tspan x="23">Snap back zones –</tspan><tspan x="23" dy="4">southern shore</tspan><tspan x="23" dy="4">bollards</tspan></text><path class="dt" d="M45 0h4"/></g>
<g id="r1-3" transform="translate(905.2,166)"><use href="#hg" x="23"/><rect class="bx" y="8" width="46" height="18"/><text class="t" y="15"><tspan x="23">First aid provisions</tspan><tspan x="23" dy="4">(incl AED)</tspan></text><path class="dt" d="M45 0h4"/></g>
<g id="r1-4" transform="translate(953.7,166)"><use href="#hg" x="23"/><rect class="bx" y="8" width="46" height="18"/><text class="t" y="15"><tspan x="23">Emergency Response</tspan><tspan x="23" dy="4">Plan</tspan></text><path class="dt" d="M45 0h4"/></g>
<g id="r1-5" transform="translate(1002.3,166)"><use href="#hg" x="23"/><rect class="bx" y="8" width="46" height="18"/><text class="t" x="23" y="17">PPE incl PFD</text><path class="dt" d="M45 0h4"/></g>
<g id="r1-6" transform="translate(1050.9,166)"><use href="#hg" x="23"/><rect class="bx" y="8" width="46" height="19"/><text class="t" y="13.5"><tspan x="23">Lines leader stops</tspan><tspan x="23" dy="4">mooring operation</tspan><tspan x="23" dy="4">immediately</tspan></text></g>

<!-- Right row 2 -->
<g id="r2-1" transform="translate(808,207)"><use href="#hg" x="23"/><rect class="bx" y="8" width="46" height="18"/><text class="t" y="15"><tspan x="23">Emergency Response</tspan><tspan x="23" dy="4">Plan</tspan></text><path class="dt" d="M45 0h4"/></g>
<g id="r2-2" transform="translate(856.6,207)"><use href="#hg" x="23"/><rect class="bx" y="8" width="46" height="18"/><text class="t" x="23" y="17">Wharf ladders</text><path class="dt" d="M45 0h4"/></g>
<g id="r2-3" transform="translate(905.2,207)"><use href="#hg" x="23"/><rect class="bx" y="8" width="46" height="18"/><text class="t" y="15"><tspan x="23">First aid provisions</tspan><tspan x="23" dy="4">(incl AED)</tspan></text><path class="dt" d="M45 0h4"/></g>
<g id="r2-4" transform="translate(953.7,207)"><use href="#hg" x="23"/><rect class="bx" y="8" width="46" height="18"/><text class="t" y="15"><tspan x="23">PPE – Hard hat with</tspan><tspan x="23" dy="4">chin strap, PFDs</tspan></text><path class="dt" d="M45 0h4"/></g>
<g id="r2-5" transform="translate(1002.3,207)"><use href="#hg" x="23"/><rect class="bx" y="8" width="46" height="18"/><text class="t" y="15"><tspan x="23">UWE Rescue planning</tspan><tspan x="23" dy="4">&amp; training</tspan></text><path class="dt" d="M45 0h4"/></g>
<g id="r2-6" transform="translate(1050.9,207)"><use href="#hg" x="23"/><rect class="bx" y="8" width="46" height="21"/><text class="t" y="12.5"><tspan x="23">Rescue equipment</tspan><tspan x="23" dy="4">(life buoys, throw</tspan><tspan x="23" dy="4">bags), powerful</tspan><tspan x="23" dy="4">torches</tspan></text><path class="dt" d="M45 0h4"/></g>
<g id="r2-7" transform="translate(1099.5,207)"><use href="#hg" x="23"/><rect class="bx" y="8" width="46" height="18"/><text class="t" x="23" y="17">Suitable flood lighting</text><path class="dt" d="M45 0h4"/></g>
<g id="r2-8" transform="translate(1148.1,207)"><use href="#hg" x="23"/><rect class="bx" y="8" width="46" height="18"/><text class="t" y="15"><tspan x="23">Low bulk PPE &amp;</tspan><tspan x="23" dy="4">clothing</tspan></text><path class="dt" d="M45 0h4"/></g>
<g id="r2-9" transform="translate(1196.6,207)"><use href="#hg" x="23"/><rect class="bx" y="8" width="46" height="19"/><text class="t" y="13.5"><tspan x="23">Lines leader stops</tspan><tspan x="23" dy="4">mooring operation</tspan><tspan x="23" dy="4">immediately</tspan></text></g>

<!-- Right row 3 -->
<g id="r3-1" transform="translate(808,250)"><use href="#hg" x="23"/><rect class="bx" y="8" width="46" height="19"/><text class="t" y="13.5"><tspan x="23">Work together to</tspan><tspan x="23" dy="4">detect entanglement</tspan><tspan x="23" dy="4">immediately</tspan></text><path class="dt" d="M45 0h4"/></g>
<g id="r3-2" transform="translate(856.6,250)"><use href="#hg" x="23"/><rect class="bx" y="8" width="46" height="19"/><text class="t" y="13.5"><tspan x="23">Lines leader stops</tspan><tspan x="23" dy="4">mooring operation</tspan><tspan x="23" dy="4">immediately</tspan></text><path class="dt" d="M45 0h4"/></g>
<g id="r3-3" transform="translate(905.2,250)"><use href="#hg" x="23"/><rect class="bx" y="8" width="46" height="18"/><text class="t" y="15"><tspan x="23">First aid provisions</tspan><tspan x="23" dy="4">(incl AED)</tspan></text><path class="dt" d="M45 0h4"/></g>
<g id="r3-4" transform="translate(953.7,250)"><use href="#hg" x="23"/><rect class="bx" y="8" width="46" height="18"/><text class="t" y="15"><tspan x="23">Emergency Response</tspan><tspan x="23" dy="4">Plan</tspan></text><path class="dt" d="M45 0h4"/></g>
<g id="r3-5" transform="translate(1002.3,250)"><use href="#hg" x="23"/><rect class="bx" y="8" width="46" height="18"/><text class="t" y="15"><tspan x="23">Low bulk PPE &amp;</tspan><tspan x="23" dy="4">clothing</tspan></text></g>

<!-- Right row 4 -->
<g id="r4-1" transform="translate(808,291)"><use href="#hg" x="23"/><rect class="bx" y="8" width="46" height="18"/><text class="t" y="15"><tspan x="23">PPE (Gloves, safety</tspan><tspan x="23" dy="4">boots, hard hat)</tspan></text><path class="dt" d="M45 0h4"/></g>
<g id="r4-2" transform="translate(856.6,291)"><use href="#hg" x="23"/><rect class="bx" y="8" width="46" height="19"/><text class="t" y="13.5"><tspan x="23">Work together to</tspan><tspan x="23" dy="4">detect entanglement</tspan><tspan x="23" dy="4">immediately</tspan></text><path class="dt" d="M45 0h4"/></g>
<g id="r4-3" transform="translate(905.2,291)"><use href="#hg" x="23"/><rect class="bx" y="8" width="46" height="18"/><text class="t" y="15"><tspan x="23">Emergency Response</tspan><tspan x="23" dy="4">Plan</tspan></text><path class="dt" d="M45 0h4"/></g>
<g id="r4-4" transform="translate(953.7,291)"><use href="#hg" x="23"/><rect class="bx" y="8" width="46" height="18"/><text class="t" y="15"><tspan x="23">First aid provisions</tspan><tspan x="23" dy="4">(incl AED)</tspan></text><path class="dt" d="M45 0h4"/></g>
<g id="r4-5" transform="translate(1002.3,291)"><use href="#hg" x="23"/><rect class="bx" y="8" width="46" height="19"/><text class="t" y="13.5"><tspan x="23">Lines leader stops</tspan><tspan x="23" dy="4">mooring operation</tspan><tspan x="23" dy="4">immediately</tspan></text></g>

<!-- Right row 5 -->
<g id="r5-1" transform="translate(808,332)"><use href="#hg" x="23"/><rect class="bx" y="8" width="46" height="18"/><text class="t" x="23" y="17">PPE – Hard Hat</text><path class="dt" d="M45 0h4"/></g>
<g id="r5-2" transform="translate(856.6,332)"><use href="#hg" x="23"/><rect class="bx" y="8" width="46" height="19"/><text class="t" y="13.5"><tspan x="23">Rejection &amp; Reporting</tspan><tspan x="23" dy="4">of unsafe monkey</tspan><tspan x="23" dy="4">fists</tspan></text><path class="dt" d="M45 0h4"/></g>
<g id="r5-3" transform="translate(905.2,332)"><use href="#hg" x="23"/><rect class="bx" y="8" width="46" height="18"/><text class="t" y="15"><tspan x="23">First aid provisions</tspan><tspan x="23" dy="4">(incl AED)</tspan></text></g>

<!-- Right row 6 -->
<g id="r6-1" transform="translate(808,373)"><use href="#hg" x="23"/><rect class="bx" y="8" width="46" height="18"/><text class="t" y="15"><tspan x="23">First aid provisions</tspan><tspan x="23" dy="4">(incl AED)</tspan></text><path class="dt" d="M45 0h4"/></g>
<g id="r6-2" transform="translate(856.6,373)"><use href="#hg" x="23"/><rect class="bx" y="8" width="46" height="18"/><text class="t" x="23" y="17">PPE – Hard Hat</text><path class="dt" d="M45 0h4"/></g>
<g id="r6-3" transform="translate(905.2,373)"><use href="#hg" x="23"/><rect class="bx" y="8" width="46" height="18"/><text class="t" y="15"><tspan x="23">Emergency Response</tspan><tspan x="23" dy="4">Plan</tspan></text></g>

<!-- Consequences -->
<g id="cons-1" transform="translate(1099.5,166)"><rect class="coO" y="-7.5" width="46" height="30" rx="2"/><rect class="coI" x="2" y="-5.5" width="42" height="18.5"/><use href="#sq4"/><text class="t" y="1.75"><tspan x="23">Struck by parting</tspan><tspan x="23" dy="4">line</tspan></text><circle class="cn" cx="0" cy="0" r="2.2"/></g>
<g id="cons-2" transform="translate(1245.2,207)"><rect class="coO" y="-7.5" width="46" height="30" rx="2"/><rect class="coI" x="2" y="-5.5" width="42" height="18.5"/><use href="#sq4"/><text class="t" y="1.75"><tspan x="23">Unplanned water</tspan><tspan x="23" dy="4">entry</tspan></text><circle class="cn" cx="0" cy="0" r="2.2"/></g>
<g id="cons-3" transform="translate(1050.9,250)"><rect class="coO" y="-7.5" width="46" height="30" rx="2"/><rect class="coI" x="2" y="-5.5" width="42" height="18.5"/><use href="#sq4"/><text class="t" x="23" y="3.75">Line entanglement</text><circle class="cn" cx="0" cy="0" r="2.2"/></g>
<g id="cons-4" transform="translate(1050.9,291)"><rect class="coO" y="-7.5" width="46" height="30" rx="2"/><rect class="coI" x="2" y="-5.5" width="42" height="18.5"/><use href="#sq4"/><text class="t" y="1.75"><tspan x="23">Crush injury – line</tspan><tspan x="23" dy="4">on bollard</tspan></text><circle class="cn" cx="0" cy="0" r="2.2"/></g>
<g id="cons-5" transform="translate(953.7,332)"><rect class="coO" y="-7.5" width="46" height="30" rx="2"/><rect class="coI" x="2" y="-5.5" width="42" height="18.5"/><use href="#sq4"/><text class="t" y="1.75"><tspan x="23">Struck by heaving</tspan><tspan x="23" dy="4">line</tspan></text><circle class="cn" cx="0" cy="0" r="2.2"/></g>
<g id="cons-6" transform="translate(953.7,373)"><rect class="coO" y="-7.5" width="46" height="30" rx="2"/><rect class="coI" x="2" y="-5.5" width="42" height="18.5"/><use href="#sq4"/><text class="t" x="23" y="3.75">Fall from height</text><circle class="cn" cx="0" cy="0" r="2.2"/></g>

<!-- Notes -->
<g id="note-1"><rect class="nt" x="882" y="163" width="21" height="13"/><text class="tn" x="892.5" y="169.5">Investigate</text></g>
<g id="note-2"><rect class="nt" x="931" y="162" width="21" height="15"/><text class="tn" y="166"><tspan x="941.5">Port vehicle</tspan><tspan x="941.5" dy="3">with first aid</tspan><tspan x="941.5" dy="3">&amp; AED</tspan></text></g>
<g id="note-3"><rect class="nt" x="832" y="203" width="22" height="10"/><text class="tn" y="206.5"><tspan x="843">Include UWE</tspan><tspan x="843" dy="3">scenario</tspan></text></g>
<g id="note-4"><rect class="nt" x="930" y="203" width="22" height="12"/><text class="tn" y="207.5"><tspan x="941">Hypothermia</tspan><tspan x="941" dy="3">treatment</tspan></text></g>
<g id="note-5"><rect class="nt" x="979" y="286" width="22" height="14"/><text class="tn" x="990" y="293">Crush injury</text></g>
</svg>
